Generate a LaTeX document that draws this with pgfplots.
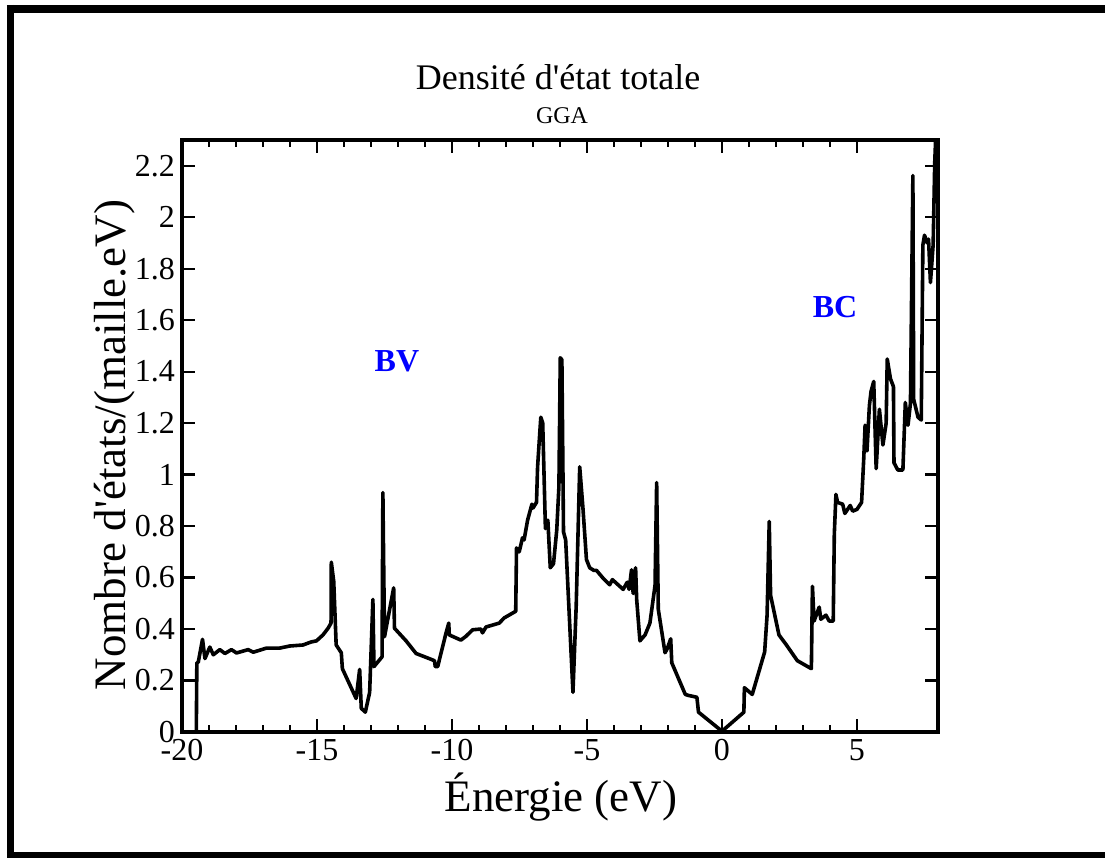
\documentclass[border=0pt]{standalone}
\usepackage{fontspec}
\setmainfont{Liberation Serif}
\usepackage{pgfplots}
\pgfplotsset{compat=1.18}
\begin{document}
\begin{tikzpicture}
\useasboundingbox (-91pt,-64.5pt) rectangle (461.5pt,366pt);
\begin{axis}[
  at={(0,0)}, anchor=south west,
  scale only axis, width=378pt, height=296pt,
  xmin=-20, xmax=8, ymin=0, ymax=2.3,
  xtick={-20,-15,-10,-5,0,5},
  minor x tick num=4,
  ytick={0,0.2,0.4,0.6,0.8,1,1.2,1.4,1.6,1.8,2,2.2},
  tick align=inside,
  major tick length=6.5pt, minor tick length=3.5pt,
  axis line style={line width=2pt},
  every tick/.style={black, line width=1.1pt},
  tick label style={font=\fontsize{16}{18}\selectfont},
  /pgf/number format/assume math mode=true,
]
\addplot[black, line width=1.8pt, line join=round] coordinates {
(-19.47,0) (-19.45,0.27) (-19.40,0.27) (-19.24,0.36) (-19.15,0.285) (-18.97,0.33)
(-18.84,0.30) (-18.60,0.32) (-18.41,0.305) (-18.17,0.32) (-17.98,0.307) (-17.55,0.32)
(-17.36,0.31) (-16.87,0.326) (-16.38,0.326) (-16.01,0.334) (-15.52,0.338) (-15.21,0.35)
(-15.02,0.354) (-14.78,0.377) (-14.59,0.403) (-14.48,0.423) (-14.47,0.66) (-14.38,0.585)
(-14.29,0.338) (-14.10,0.308) (-14.06,0.246) (-13.55,0.13) (-13.42,0.243) (-13.36,0.092)
(-13.21,0.077) (-13.05,0.154) (-12.93,0.515) (-12.89,0.254) (-12.59,0.292) (-12.56,0.93)
(-12.50,0.37) (-12.16,0.56) (-12.13,0.403) (-11.70,0.354) (-11.33,0.305) (-10.84,0.285)
(-10.65,0.277) (-10.62,0.254) (-10.53,0.254) (-10.22,0.385) (-10.12,0.423) (-10.10,0.377)
(-9.67,0.357) (-9.48,0.372) (-9.24,0.397) (-8.93,0.40) (-8.87,0.385) (-8.74,0.408)
(-8.25,0.423) (-8.07,0.443) (-7.64,0.469) (-7.61,0.715) (-7.51,0.70) (-7.39,0.754)
(-7.33,0.746) (-7.20,0.823) (-7.04,0.885) (-7.00,0.87) (-6.87,0.892) (-6.83,1.03)
(-6.74,1.177) (-6.71,1.223) (-6.64,1.20) (-6.54,0.79) (-6.45,0.823) (-6.36,0.638)
(-6.24,0.654) (-6.12,0.785) (-6.04,0.954) (-5.99,1.454) (-5.93,1.446) (-5.87,0.777)
(-5.79,0.746) (-5.52,0.154) (-5.40,0.49) (-5.27,1.03) (-5.15,0.87) (-5.02,0.67)
(-4.90,0.638) (-4.75,0.628) (-4.65,0.628) (-4.40,0.597) (-4.16,0.572) (-4.06,0.592)
(-3.85,0.572) (-3.66,0.554) (-3.51,0.582) (-3.44,0.554) (-3.35,0.63) (-3.29,0.538)
(-3.20,0.638) (-3.16,0.515) (-3.04,0.354) (-2.85,0.377) (-2.67,0.423) (-2.48,0.569)
(-2.42,0.969) (-2.36,0.477) (-2.11,0.308) (-2.03,0.323) (-1.90,0.362) (-1.86,0.269)
(-1.36,0.146) (-1.24,0.142) (-0.93,0.135) (-0.87,0.077) (0.0,0.003) (0.81,0.077)
(0.83,0.172) (1.12,0.146) (1.58,0.311) (1.67,0.454) (1.75,0.818) (1.80,0.531)
(2.11,0.377) (2.36,0.342) (2.79,0.277) (3.31,0.246) (3.35,0.566) (3.41,0.431)
(3.60,0.485) (3.66,0.438) (3.85,0.454) (3.97,0.431) (4.12,0.431) (4.16,0.769)
(4.22,0.923) (4.28,0.892) (4.47,0.885) (4.55,0.849) (4.75,0.88) (4.84,0.858)
(5.00,0.865) (5.17,0.892) (5.25,1.062) (5.30,1.192) (5.37,1.092) (5.46,1.269)
(5.52,1.323) (5.62,1.362) (5.71,1.023) (5.83,1.254) (5.96,1.115) (6.08,1.20)
(6.12,1.449) (6.24,1.372) (6.35,1.342) (6.37,1.046) (6.51,1.018) (6.70,1.018)
(6.79,1.28) (6.89,1.192) (6.98,1.277) (7.07,2.162) (7.10,1.292) (7.26,1.223)
(7.38,1.212) (7.44,1.892) (7.50,1.93) (7.60,1.90) (7.65,1.915) (7.72,1.746)
(7.82,1.892) (7.88,2.215) (7.95,2.4)
};
\node[text=blue, font=\fontsize{16}{18}\selectfont\bfseries] at (axis cs:-12.04,1.44) {BV};
\node[text=blue, font=\fontsize{16}{18}\selectfont\bfseries] at (axis cs:4.19,1.65) {BC};
\end{axis}
% titles and axis labels
\node[font=\fontsize{18}{20}\selectfont, anchor=base] at (188pt,321pt) {Densité d\textquotesingle état totale};
\node[font=\fontsize{12}{14}\selectfont, anchor=base] at (190pt,304pt) {GGA};
\node[font=\fontsize{22.5}{24}\selectfont, anchor=base] at (189.5pt,-40pt) {Énergie (eV)};
\node[font=\fontsize{22.5}{24}\selectfont, anchor=base, rotate=90] at (-28.5pt,143.5pt) {Nombre d\textquotesingle états/(maille.eV)};
% outer frame
\draw[line width=4pt] (-87.5pt,361.5pt) -- (461.5pt,361.5pt);
\draw[line width=3.5pt] (-85.75pt,363.5pt) -- (-85.75pt,-63pt);
\draw[line width=3pt] (-87.5pt,-61.5pt) -- (461.5pt,-61.5pt);
\end{tikzpicture}
\end{document}
